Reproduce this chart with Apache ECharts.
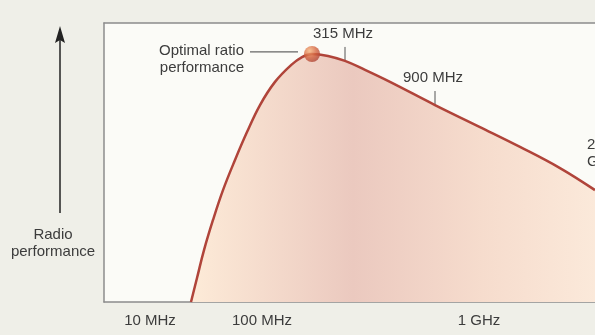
<!DOCTYPE html>
<html><head><meta charset="utf-8">
<script src="https://cdn.jsdelivr.net/npm/echarts@6/dist/echarts.min.js"></script>
<style>html,body{margin:0;padding:0;background:#efefe8;}#c{width:595px;height:335px;}</style>
</head><body><div id="c"></div>
<script>
// curve: x in axis units (arbitrary frequency position), y = radio performance (0-100)
const curveX = [1.74,1.86,2.00,2.18,2.38,2.62,2.86,3.12,3.42,3.74,3.96,4.16,4.48,4.82,5.22,5.72,6.62,7.52,8.32,9.12,9.82];
const curveY = [0,8.6,18.6,29.4,40.1,50.9,60.9,70.6,78.9,84.9,87.8,88.9,88.2,86.4,83.2,78.9,70.6,62.7,55.6,48.0,40.1];
const peak = [4.16, 88.9];
// x-axis tick labels
const tickPos = [0.92, 3.16, 7.5];
const tickLabels = ['10 MHz', '100 MHz', '1 GHz'];
// frequency annotations on the curve
const annLabels = ['315 MHz', '900 MHz'];
const annX = [4.82, 6.62];
const annY = [86.4, 70.6];

const chart = echarts.init(document.getElementById('c'), null, {renderer:'canvas'});
const font = '"Liberation Sans", Arial, sans-serif';
const txt = '#3c3c3c';
const border = {show:true, lineStyle:{color:'#8c8c8c', width:1.5}};
chart.setOption({
  animation:false,
  backgroundColor:'#efefe8',
  grid:{left:104, top:23, right:0, height:279, show:true, backgroundColor:'#fbfbf7', borderWidth:0},
  xAxis:[
    {type:'value', min:0, max:9.82, axisLine:border, axisTick:{show:false}, splitLine:{show:false},
     axisLabel:{customValues:tickPos, margin:11, color:txt, fontSize:15, fontFamily:font,
       formatter:(v)=>{const i=tickPos.indexOf(v);return i>=0?tickLabels[i]:'';}}},
    {type:'value', position:'top', min:0, max:9.82, axisLine:border, axisTick:{show:false}, axisLabel:{show:false}, splitLine:{show:false}}
  ],
  yAxis:{type:'value', min:0, max:100, axisLine:border, axisTick:{show:false}, axisLabel:{show:false}, splitLine:{show:false}},
  series:[
    {type:'line', data:curveX.map((x,i)=>[x,curveY[i]]), smooth:0.4, showSymbol:false,
     lineStyle:{color:'#b0443a', width:2.5},
     areaStyle:{opacity:1, color:{type:'linear', x:0, y:0, x2:1, y2:0, colorStops:[
       {offset:0, color:'#fdebd8'},{offset:0.4, color:'#ebc9bf'},{offset:0.72, color:'#f6dccd'},{offset:1, color:'#fbe9da'}]}}},
    {type:'scatter', data:[peak], symbolSize:16, z:5,
     itemStyle:{color:{type:'radial', x:0.35, y:0.3, r:0.75, colorStops:[{offset:0,color:'#f7b27a'},{offset:0.55,color:'#d4643f'},{offset:1,color:'#ad4436'}]}}}
  ]
});

const g = [];
const pk = chart.convertToPixel({gridIndex:0}, peak);
g.push({type:'line', shape:{x1:pk[0]-62, y1:pk[1]-2, x2:pk[0]-14, y2:pk[1]-2}, style:{stroke:'#666', lineWidth:1.2}});
g.push({type:'text', x:pk[0]-68, y:pk[1]-12, style:{text:'Optimal ratio\nperformance', align:'right', font:'15px '+font, fill:txt, lineHeight:17}});
annLabels.forEach((l,i)=>{
  const p = chart.convertToPixel({gridIndex:0}, [annX[i], annY[i]]);
  g.push({type:'line', shape:{x1:p[0], y1:p[1]-14, x2:p[0], y2:p[1]}, style:{stroke:'#555', lineWidth:1}});
  g.push({type:'text', x:p[0]-2, y:p[1]-27, style:{text:l, align:'center', verticalAlign:'middle', font:'15px '+font, fill:txt}});
});
g.push({type:'text', x:587, y:136, style:{text:'2.4\nGHz', align:'left', font:'15px '+font, fill:txt, lineHeight:17}});
// y axis arrow and label
g.push({type:'line', shape:{x1:60, y1:213, x2:60, y2:38}, style:{stroke:'#222', lineWidth:1.5}});
g.push({type:'polygon', shape:{points:[[60,26],[55,43],[60,40],[65,43]]}, style:{fill:'#222'}});
g.push({type:'text', x:53, y:226, style:{text:'Radio\nperformance', align:'center', font:'15px '+font, fill:txt, lineHeight:17}});
// x direction label and arrow
g.push({type:'text', x:360, y:275, style:{text:'Operating frequency', align:'left', verticalAlign:'middle', font:'15px '+font, fill:txt}});
g.push({type:'line', shape:{x1:517, y1:277, x2:585, y2:277}, style:{stroke:'#222', lineWidth:1.5}});
g.push({type:'polygon', shape:{points:[[597,277],[580,272],[583,277],[580,282]]}, style:{fill:'#222'}});
chart.setOption({graphic:g});
</script></body></html>
